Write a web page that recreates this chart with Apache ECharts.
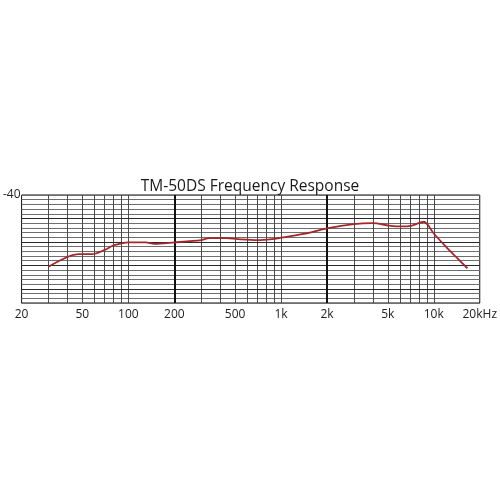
<!DOCTYPE html>
<html><head><meta charset="utf-8">
<script src="https://cdn.jsdelivr.net/npm/echarts@6/dist/echarts.min.js"></script>
<style>html,body{margin:0;padding:0;background:#fff}#c{width:500px;height:500px}</style>
</head><body><div id="c"></div>
<script>
const title = 'TM-50DS Frequency Response';
const freqs = [30, 47, 58, 70, 80, 90, 100, 130, 148, 200, 300, 338, 440, 520, 700, 870, 1000, 1400, 2000, 3000, 4000, 5100, 6200, 7200, 8600, 10000, 12000, 14000, 16600];
const levels = [-55.3, -52.6, -52.6, -51.7, -50.7, -50.3, -50.1, -50.1, -50.4, -50.1, -49.6, -49.2, -49.2, -49.4, -49.6, -49.4, -49.1, -48.3, -47.1, -46.2, -46.0, -46.5, -46.7, -46.5, -45.7, -48.2, -51.0, -53.2, -55.6];
const xTickValues = [20, 50, 100, 200, 500, 1000, 2000, 5000, 10000, 20000];
const xTickLabels = ['20', '50', '100', '200', '500', '1k', '2k', '5k', '10k', '20kHz'];
const vGridFreqs = [30, 40, 50, 60, 70, 80, 90, 100, 300, 400, 500, 600, 700, 800, 900, 1000, 3000, 4000, 5000, 6000, 7000, 8000, 9000, 10000];
const vMajorFreqs = [200, 2000];
const yMin = -63, yMax = -40;
const hMajorLevels = [-45, -50, -55, -60];
const yLabelValues = [-40];

const chart = echarts.init(document.getElementById('c'), null, {renderer: 'canvas'});
const markData = [];
vGridFreqs.forEach(f => markData.push({xAxis: f, lineStyle: {color: '#4a4a4a', width: 1, type: 'solid'}}));
hMajorLevels.forEach(v => markData.push({yAxis: v, lineStyle: {color: '#2a2a2a', width: 1, type: 'solid'}}));
vMajorFreqs.forEach(f => markData.push({xAxis: f, lineStyle: {color: '#111', width: 2, type: 'solid'}}));

chart.setOption({
  backgroundColor: '#fff',
  animation: false,
  title: {text: title, left: 'center', top: 174, textStyle: {fontFamily: 'Open Sans', fontWeight: 'normal', fontSize: 15.5, color: '#1a1a1a'}},
  grid: {left: 17, right: 18, top: 195, bottom: 197, show: true, borderColor: '#111', borderWidth: 1, backgroundColor: 'transparent'},
  xAxis: {
    type: 'log', logBase: 10, min: 20, max: 20000,
    axisLine: {show: false}, axisTick: {show: false},
    splitLine: {show: false}, minorSplitLine: {show: false},
    axisLabel: {
      customValues: xTickValues,
      formatter: v => { const i = xTickValues.findIndex(t => Math.abs(t - v) / t < 1e-6); return i >= 0 ? xTickLabels[i] : ''; },
      fontFamily: 'Open Sans', fontSize: 12, color: '#222', margin: 6
    }
  },
  yAxis: {
    type: 'value', min: yMin, max: yMax, interval: 1,
    axisLine: {show: false}, axisTick: {show: false},
    splitLine: {show: true, lineStyle: {color: '#6e6e6e', width: 1}},
    axisLabel: {
      customValues: yLabelValues,
      formatter: v => String(v),
      fontFamily: 'Open Sans', fontSize: 12, color: '#222', margin: 1
    }
  },
  series: [
    {
      type: 'line', data: [], z: 1, silent: true,
      markLine: {silent: true, symbol: 'none', label: {show: false}, animation: false, data: markData}
    },
    {
      type: 'line', z: 5, smooth: 0.3, showSymbol: false, symbol: 'none',
      data: freqs.map((f, i) => [f, levels[i]]),
      lineStyle: {color: '#a3262b', width: 1.8}
    }
  ]
});
</script></body></html>
